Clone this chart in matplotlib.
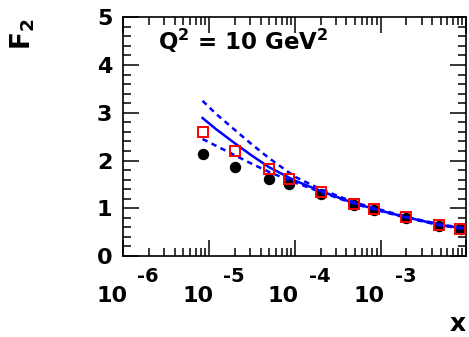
import matplotlib
matplotlib.use("Agg")
import matplotlib.pyplot as plt
import numpy as np
from matplotlib.ticker import LogLocator, MultipleLocator, NullFormatter

plt.rcParams['font.family'] = ['DejaVu Sans']
plt.rcParams['font.weight'] = 'bold'
plt.rcParams['mathtext.fontset'] = 'dejavusans'

# data points
x_pts = [8.4e-6, 2.0e-5, 5.0e-5, 8.5e-5, 2.0e-4, 4.9e-4, 8.4e-4, 1.95e-3, 4.8e-3, 8.4e-3]
f2_open = [2.59, 2.20, 1.82, 1.61, 1.34, 1.09, 0.98, 0.81, 0.64, 0.57]
f2_full = [2.13, 1.87, 1.61, 1.50, 1.29, 1.07, 0.97, 0.80, 0.63, 0.56]

# curves
x_curve = [8.4e-6, 1.2e-5, 2e-5, 3e-5, 5e-5, 1e-4, 2e-4, 5e-4, 1e-3, 2e-3, 5e-3, 1e-2]
f2_central = [2.89, 2.66, 2.36, 2.13, 1.86, 1.58, 1.36, 1.10, 0.95, 0.81, 0.65, 0.57]
f2_upper = [3.25, 2.98, 2.64, 2.37, 2.05, 1.66, 1.40, 1.12, 0.97, 0.82, 0.66, 0.58]
f2_lower = [2.45, 2.31, 2.11, 1.95, 1.76, 1.54, 1.34, 1.09, 0.94, 0.80, 0.64, 0.56]

decades = [-6, -5, -4, -3]

W, H = 469, 337
fig = plt.figure(figsize=(W / 100, H / 100), dpi=100)
ax = fig.add_axes([123.3 / W, 1 - 256 / H, (466.4 - 123.3) / W, (256 - 17.3) / H])


def fx(px):
    return px / W


def fy(py):
    return 1 - py / H


ax.plot(x_pts, f2_full, 'o', color='black', ms=7.2, zorder=2)
ax.plot(x_curve, f2_central, '-', color='blue', lw=1.8, zorder=3)
ax.plot(x_curve, f2_upper, color='blue', lw=1.8, ls=(0, (2.2, 1.8)), zorder=3)
ax.plot(x_curve, f2_lower, color='blue', lw=1.8, ls=(0, (2.2, 1.8)), zorder=3)
ax.plot(x_pts, f2_open, 's', color='red', mfc='none', mec='red', ms=7.5, mew=1.4, zorder=4)

ax.set_xscale('log')
ax.set_xlim(1e-6, 1e-2)
ax.set_ylim(0, 5)
ax.xaxis.set_major_locator(LogLocator(base=10, numticks=10))
ax.xaxis.set_minor_locator(LogLocator(base=10, subs=np.arange(2, 10), numticks=20))
ax.xaxis.set_major_formatter(NullFormatter())
ax.xaxis.set_minor_formatter(NullFormatter())
ax.yaxis.set_major_locator(MultipleLocator(1))
ax.yaxis.set_minor_locator(MultipleLocator(0.2))

for s in ax.spines.values():
    s.set_linewidth(1.2)
ax.tick_params(which='both', direction='in', top=True, right=True, width=1.1)
ax.tick_params(which='major', length=11.5, labelsize=16, pad=8)
ax.tick_params(which='minor', length=6)
for lab in ax.get_yticklabels():
    lab.set_fontweight('bold')

# x tick labels drawn as 10 with exponent
for d in decades:
    tx = ax.transData.transform((10.0 ** d, 0))[0]
    fig.text(fx(tx - 11.5), fy(302), '10', ha='center', va='baseline',
             fontsize=16, fontweight='bold')
    fig.text(fx(tx + 25), fy(282), str(d), ha='center', va='baseline',
             fontsize=14, fontweight='bold')

fig.text(fx(158), fy(50), r'Q$^{\mathbf{2}}$ = 10 GeV$^{\mathbf{2}}$',
         ha='left', va='baseline', fontsize=16.5, fontweight='bold')

fig.text(fx(23), fy(34), r'$\mathbf{F_2}$', rotation=90, ha='center', va='center',
         fontsize=19)
fig.text(fx(458), fy(336), 'x', ha='center', va='bottom', fontsize=18, fontweight='bold')

fig.savefig('out.png', dpi=100)
